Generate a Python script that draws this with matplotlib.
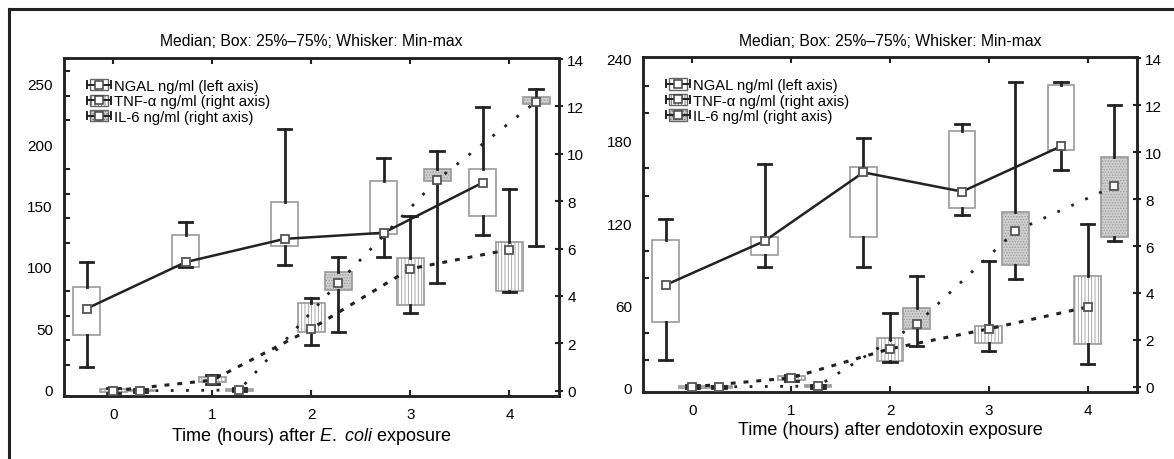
import matplotlib
matplotlib.use("Agg")
import matplotlib.pyplot as plt
from matplotlib.lines import Line2D
from matplotlib.patches import Rectangle
from matplotlib.legend_handler import HandlerBase

plt.rcParams['font.family'] = ['Liberation Sans', 'DejaVu Sans']
plt.rcParams['mathtext.fontset'] = 'custom'
plt.rcParams['mathtext.rm'] = 'Liberation Sans'
plt.rcParams['mathtext.it'] = 'Liberation Sans:italic'
plt.rcParams['hatch.linewidth'] = 0.6

hours = [0, 1, 2, 3, 4]
title_text = "Median; Box: 25%\u201375%; Whisker: Min-max"
legend_labels = ["NGAL ng/ml (left axis)", "TNF-\u03b1 ng/ml (right axis)", "IL-6 ng/ml (right axis)"]

# E. coli panel (NGAL on left axis, cytokines on right axis)
ngal_ecoli_min = [18, 100, 102, 108, 126]
ngal_ecoli_q1 = [44, 100, 117, 127, 142]
ngal_ecoli_med = [66, 104, 123, 128, 169]
ngal_ecoli_q3 = [84, 126, 153, 170, 180]
ngal_ecoli_max = [104, 137, 213, 189, 231]

tnf_ecoli_min = [-0.08, 0.30, 1.95, 3.30, 4.15]
tnf_ecoli_q1 = [-0.05, 0.35, 2.50, 3.60, 4.20]
tnf_ecoli_med = [0.00, 0.45, 2.62, 5.15, 5.96]
tnf_ecoli_q3 = [0.08, 0.60, 3.72, 5.62, 6.30]
tnf_ecoli_max = [0.12, 0.65, 3.93, 7.36, 8.50]

il6_ecoli_min = [-0.05, -0.03, 2.50, 4.53, 6.10]
il6_ecoli_q1 = [-0.03, 0.00, 4.27, 8.84, 12.10]
il6_ecoli_med = [0.00, 0.03, 4.55, 8.90, 12.20]
il6_ecoli_q3 = [0.05, 0.08, 5.00, 9.35, 12.40]
il6_ecoli_max = [0.07, 0.10, 5.63, 10.10, 12.75]

# endotoxin panel
ngal_endo_min = [20, 88, 88, 126, 159]
ngal_endo_q1 = [48, 97, 110, 131, 173]
ngal_endo_med = [75, 107, 157, 143, 176]
ngal_endo_q3 = [108, 110, 161, 187, 221]
ngal_endo_max = [123, 163, 182, 192, 223]

tnf_endo_min = [-0.05, 0.25, 1.06, 1.53, 0.98]
tnf_endo_q1 = [-0.03, 0.30, 1.10, 1.87, 1.83]
tnf_endo_med = [0.00, 0.38, 1.62, 2.47, 3.40]
tnf_endo_q3 = [0.05, 0.45, 2.08, 2.60, 4.72]
tnf_endo_max = [0.08, 0.50, 3.15, 5.36, 6.94]

il6_endo_min = [-0.05, -0.03, 1.74, 4.60, 6.20]
il6_endo_q1 = [-0.03, 0.00, 2.47, 5.20, 6.40]
il6_endo_med = [0.00, 0.03, 2.68, 6.64, 8.55]
il6_endo_q3 = [0.03, 0.06, 3.36, 7.45, 9.80]
il6_endo_max = [0.05, 0.08, 4.72, 13.00, 12.00]

EDGE = "#9a9a9a"
DARK = "#222222"
styles = [
    dict(face="white", hatch=None, ls="-", lw=1.8),
    dict(face="white", hatch="|||||", ls=(0, (1.6, 2.6)), lw=2.2),
    dict(face="#cfcfcf", hatch="......", ls=(0, (1, 4.5)), lw=2.0),
]


def make_stats(mins, q1s, meds, q3s, maxs):
    return [dict(whislo=a, q1=b, med=c, q3=d, whishi=e) for a, b, c, d, e in zip(mins, q1s, meds, q3s, maxs)]


def draw_series(ax, offset, stats, meds, style):
    pos = [h + offset for h in hours]
    res = ax.bxp(stats, positions=pos, widths=0.27, patch_artist=True, showfliers=False,
                 manage_ticks=False,
                 boxprops=dict(facecolor=style["face"], edgecolor=EDGE, linewidth=1.2),
                 whiskerprops=dict(color=DARK, linewidth=2.0),
                 capprops=dict(color=DARK, linewidth=2.0),
                 medianprops=dict(linewidth=0))
    for b in res["boxes"]:
        if style["hatch"]:
            b.set_hatch(style["hatch"])
        b.set_zorder(2)
    ax.plot(pos, meds, color=DARK, linestyle=style["ls"], linewidth=style["lw"], zorder=3)
    ax.plot(pos, meds, linestyle="none", marker="s", markersize=6, mfc="white", mec="#555555", mew=1.3, zorder=4)


class BoxIcon(HandlerBase):
    def __init__(self, face, hatch):
        super().__init__()
        self.face = face
        self.hatch = hatch

    def create_artists(self, legend, orig_handle, xdescent, ydescent, width, height, fontsize, trans):
        cy = height / 2 - ydescent
        r = Rectangle((width * 0.12 - xdescent, -ydescent), width * 0.76, height,
                      facecolor=self.face, edgecolor="#666666", hatch=self.hatch, linewidth=1.0, transform=trans)
        ln = Line2D([-xdescent, width - xdescent], [cy, cy], color=DARK, linewidth=1.4, transform=trans)
        c1 = Line2D([-xdescent, -xdescent], [cy - 2.5, cy + 2.5], color=DARK, linewidth=1.4, transform=trans)
        c2 = Line2D([width - xdescent, width - xdescent], [cy - 2.5, cy + 2.5], color=DARK, linewidth=1.4, transform=trans)
        m = Line2D([width / 2 - xdescent], [cy], marker="s", markersize=5.5, mfc="white", mec="#444444",
                   mew=1.1, linestyle="none", transform=trans)
        return [r, ln, c1, c2, m]


def draw_panel(ax, ngal, tnf, il6, ylim_left, left_major, xlabel):
    ax2 = ax.twinx()
    draw_series(ax, -0.27, make_stats(*ngal), ngal[2], styles[0])
    draw_series(ax2, 0.0, make_stats(*tnf), tnf[2], styles[1])
    draw_series(ax2, 0.27, make_stats(*il6), il6[2], styles[2])

    ax.set_xlim(-0.5, 4.5)
    ax.set_ylim(*ylim_left)
    ax2.set_ylim(-0.22, 14.05)
    ax.set_xticks(hours)
    ax.set_yticks(left_major)
    ax.set_yticks(range(20, int(ylim_left[1]), 20), minor=True)
    ax2.set_yticks(range(0, 15, 2))
    ax.tick_params(axis="x", direction="in", top=True, length=4, width=1.5, labelsize=11, pad=8, color=DARK)
    ax.tick_params(axis="y", which="major", length=0, labelsize=11, pad=8)
    ax.tick_params(axis="y", which="minor", direction="in", length=4, width=1.5, color=DARK)
    ax2.tick_params(axis="y", direction="inout", length=6, width=1.5, labelsize=11, pad=3, color=DARK)
    for a in (ax, ax2):
        for s in a.spines.values():
            s.set_linewidth(1.8)
            s.set_color(DARK)
    ax.set_title(title_text, fontsize=11.3, pad=9)
    ax.set_xlabel(xlabel, fontsize=13, labelpad=3)

    handles = [Rectangle((0, 0), 1, 1) for _ in range(3)]
    ax2.legend(handles, legend_labels, loc="upper left", bbox_to_anchor=(0.035, 0.955), frameon=False,
               fontsize=10.6, handlelength=1.6, handleheight=0.8, handletextpad=0.2, labelspacing=0.1,
               borderaxespad=0,
               handler_map={h: BoxIcon(st["face"], st["hatch"]) for h, st in zip(handles, styles)})


fig = plt.figure(figsize=(11.74, 4.6), dpi=100)
ax_l = fig.add_axes([0.0545, 0.137, 0.4216, 0.735])
ax_r = fig.add_axes([0.5477, 0.1457, 0.4208, 0.728])

draw_panel(ax_l,
           [ngal_ecoli_min, ngal_ecoli_q1, ngal_ecoli_med, ngal_ecoli_q3, ngal_ecoli_max],
           [tnf_ecoli_min, tnf_ecoli_q1, tnf_ecoli_med, tnf_ecoli_q3, tnf_ecoli_max],
           [il6_ecoli_min, il6_ecoli_q1, il6_ecoli_med, il6_ecoli_q3, il6_ecoli_max],
           (-5.5, 271), range(0, 251, 50),
           "Time (hours) after $\\it{E.\\ coli}$ exposure")
draw_panel(ax_r,
           [ngal_endo_min, ngal_endo_q1, ngal_endo_med, ngal_endo_q3, ngal_endo_max],
           [tnf_endo_min, tnf_endo_q1, tnf_endo_med, tnf_endo_q3, tnf_endo_max],
           [il6_endo_min, il6_endo_q1, il6_endo_med, il6_endo_q3, il6_endo_max],
           (-3, 241), range(0, 241, 60),
           "Time (hours) after endotoxin exposure")

# outer frame lines (top and left) as in the source figure
fig.add_artist(Line2D([9 / 1174, 1], [1 - 10 / 460, 1 - 10 / 460], color=DARK, linewidth=2.2))
fig.add_artist(Line2D([9 / 1174, 9 / 1174], [0, 1 - 10 / 460], color=DARK, linewidth=2.2))

fig.savefig("out.png", dpi=100)
